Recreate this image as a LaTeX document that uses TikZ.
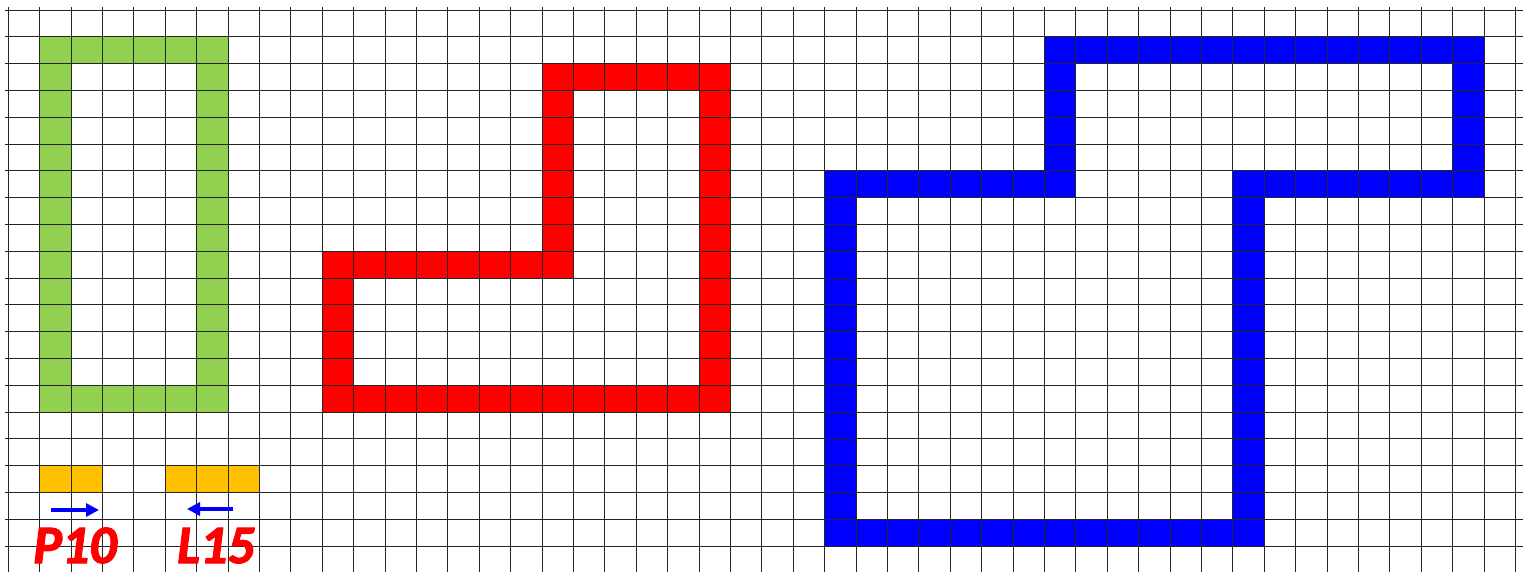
\documentclass[tikz,border=0pt]{standalone}
\usepackage{fontspec}
\setmainfont{Carlito}
\newfontfamily\lblfont{Carlito}[BoldItalicFeatures={FakeBold=2.2}]
\usetikzlibrary{arrows.meta}
\definecolor{gfill}{HTML}{92D050}
\definecolor{rfill}{HTML}{FF0000}
\definecolor{bfill}{HTML}{0000FF}
\definecolor{ofill}{HTML}{FFC000}
\tikzset{
  gridline/.style={line width=0.9pt, black!85},
  dirarrow/.style={draw=bfill, line width=3.6pt, -{Triangle[length=13pt,width=13pt]}},
  lbl/.style={text=rfill, font=\lblfont\fontsize{54}{54}\selectfont\bfseries\itshape, inner sep=0pt, anchor=base, text depth=0pt}
}
\begin{document}
\begin{tikzpicture}[x=1pt,y=1pt]
\useasboundingbox (0,0) rectangle (1523,-572);
\fill[white] (0,0) rectangle (1523,-572);
\begin{scope}[shift={(8.3pt,-10pt)}, x={(31.4pt,0)}, y={(0,-26.8pt)}]
  % green frame
  \fill[gfill, even odd rule] (1,1) rectangle (7,15) (2,2) rectangle (6,14);
  % red L frame
  \fill[rfill, even odd rule] (17,2) -- (23,2) -- (23,15) -- (10,15) -- (10,9) -- (17,9) -- cycle
    (18,3) -- (22,3) -- (22,14) -- (11,14) -- (11,10) -- (18,10) -- cycle;
  % blue frame
  \fill[bfill, even odd rule] (33,1) -- (47,1) -- (47,7) -- (40,7) -- (40,20) -- (26,20) -- (26,6) -- (33,6) -- cycle
    (34,2) -- (46,2) -- (46,6) -- (39,6) -- (39,19) -- (27,19) -- (27,7) -- (34,7) -- cycle;
  % orange bars
  \fill[ofill] (1,17) rectangle (3,18);
  \fill[ofill] (5,17) rectangle (8,18);
  % grid
  \foreach \k in {0,...,48} {\draw[gridline] (\k,-0.12) -- (\k,20.97);}
  \foreach \k in {0,...,20} {\draw[gridline] (-0.11,\k) -- (48.25,\k);}
\end{scope}
\coordinate (a1s) at (51,-510);
\coordinate (a1e) at (99,-510);
\coordinate (a2s) at (233,-509);
\coordinate (a2e) at (187,-509);
\draw[dirarrow] (a1s) -- (a1e);
\draw[dirarrow] (a2s) -- (a2e);
\node[lbl] (p10) at (75,-563) {P10};
\node[lbl] (l15) at (216,-563) {L15};
\end{tikzpicture}
\end{document}
